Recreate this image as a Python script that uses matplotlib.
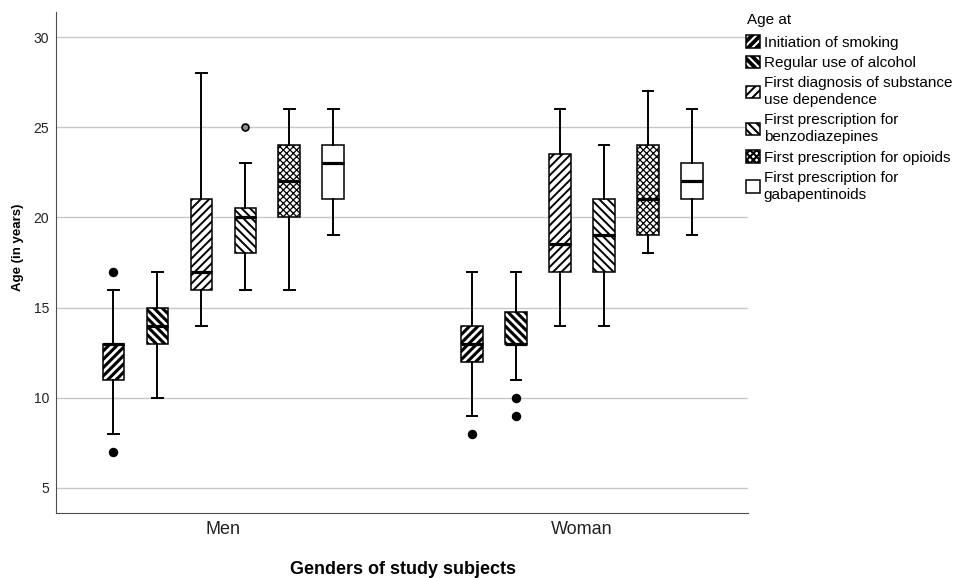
import matplotlib
matplotlib.use("Agg")
import matplotlib.pyplot as plt
from matplotlib.patches import PathPatch, Patch

plt.rcParams['font.family'] = ['Liberation Sans', 'DejaVu Sans']
plt.rcParams['hatch.linewidth'] = 1.5

groups = ['Men', 'Woman']
series = ['Initiation of smoking', 'Regular use of alcohol',
          'First diagnosis of substance\nuse dependence',
          'First prescription for\nbenzodiazepines',
          'First prescription for opioids',
          'First prescription for\ngabapentinoids']

# box statistics (ages in years)
men_lo = [8, 10, 14, 16, 16, 19]
men_q1 = [11, 13, 16, 18, 20, 21]
men_med = [13, 14, 17, 20, 22, 23]
men_q3 = [13, 15, 21, 20.5, 24, 24]
men_hi = [16, 17, 28, 23, 26, 26]
men_out = [[7, 17], [], [], [25], [], []]

women_lo = [9, 11, 14, 14, 18, 19]
women_q1 = [12, 13, 17, 17, 19, 21]
women_med = [13, 13, 18.5, 19, 21, 22]
women_q3 = [14, 14.75, 23.5, 21, 24, 23]
women_hi = [17, 17, 26, 24, 27, 26]
women_out = [[8], [9, 10], [], [], [], []]

# face, hatch colour, hatch, hatch line width
styles = [('black', 'white', '////', 2.0), ('black', 'white', '\\\\\\\\', 2.0),
          ('white', 'black', '////', 1.4), ('white', 'black', '\\\\\\\\', 1.4),
          ('white', 'black', 'xxxxx', 0.9), ('white', 'black', '', 1.0)]

fig = plt.figure(figsize=(9.58, 5.78), dpi=100)
ax = fig.add_axes([56/958, 1-513/578, (748-56)/958, (513-12)/578])

step = 0.1227
width = 0.061

data = [(men_lo, men_q1, men_med, men_q3, men_hi, men_out),
        (women_lo, women_q1, women_med, women_q3, women_hi, women_out)]

for g, (lo, q1, med, q3, hi, out) in enumerate(data):
    stats = []
    for i in range(len(series)):
        stats.append(dict(whislo=lo[i], q1=q1[i], med=med[i], q3=q3[i],
                          whishi=hi[i], fliers=out[i]))
    pos = [g + (i - 2.5) * step for i in range(len(series))]
    bp = ax.bxp(stats, positions=pos, widths=width, capwidths=width * 0.5,
                patch_artist=True, manage_ticks=False,
                whiskerprops=dict(color='black', lw=1.4),
                capprops=dict(color='black', lw=1.4),
                medianprops=dict(color='black', lw=2.3, zorder=4),
                flierprops=dict(marker='o', markerfacecolor='black',
                                markeredgecolor='black', markersize=5.8))
    for box, (fc, hc, h, hlw) in zip(bp['boxes'], styles):
        box.set_facecolor(fc)
        box.set_edgecolor(hc)
        box.set_hatch(h)
        box.set_linewidth(0)
        if hasattr(box, 'set_hatch_linewidth'):
            box.set_hatch_linewidth(hlw)
        outline = PathPatch(box.get_path(), facecolor='none', edgecolor='black',
                            lw=1.1, zorder=3)
        ax.add_patch(outline)
    if g == 0:
        fl = bp['fliers'][3]
        fl.set_markerfacecolor('#8c8c8c')
        fl.set_markersize(5)
        fl.set_markeredgewidth(1.2)

ax.set_xlim(-0.467, 1.463)
ax.set_ylim(3.6, 31.4)
ax.set_yticks([5, 10, 15, 20, 25, 30])
ax.set_xticks([0, 1], groups, fontsize=13)
ax.tick_params(axis='y', length=0, labelsize=10, pad=5, labelcolor='#222222')
ax.tick_params(axis='x', length=0, pad=6, labelcolor='#222222')
ax.yaxis.grid(True, color='#c8c8c8', lw=1)
ax.set_axisbelow(True)
for s in ['top', 'right']:
    ax.spines[s].set_visible(False)
for s in ['left', 'bottom']:
    ax.spines[s].set_color('#4d4d4d')

fig.text(403/958, 1-569/578, 'Genders of study subjects', ha='center',
         va='center', fontsize=13, fontweight='bold')
fig.text(18/958, 1-247/578, 'Age (in years)', ha='center', va='center',
         rotation=90, fontsize=9.5, fontweight='bold')

# legend title placed on its own, legend below it
fig.text(747/958, 1-20/578, 'Age at', ha='left', va='center', fontsize=11)
handles = []
for fc, hc, h, hlw in styles:
    p = Patch(facecolor=fc, edgecolor=hc, hatch=h, lw=0)
    if hasattr(p, 'set_hatch_linewidth'):
        p.set_hatch_linewidth(hlw)
    handles.append((p, Patch(facecolor='none', edgecolor='black', lw=1.1)))
leg = fig.legend(handles, series, loc='upper left',
                 bbox_to_anchor=(746/958, 1-35/578), frameon=False, fontsize=11,
                 borderpad=0, borderaxespad=0, handlelength=0.9,
                 handleheight=0.9, handletextpad=0.25, labelspacing=0.4)
for t in leg.get_texts():
    t.set_linespacing(1.25)

fig.savefig('out.png', dpi=100)
